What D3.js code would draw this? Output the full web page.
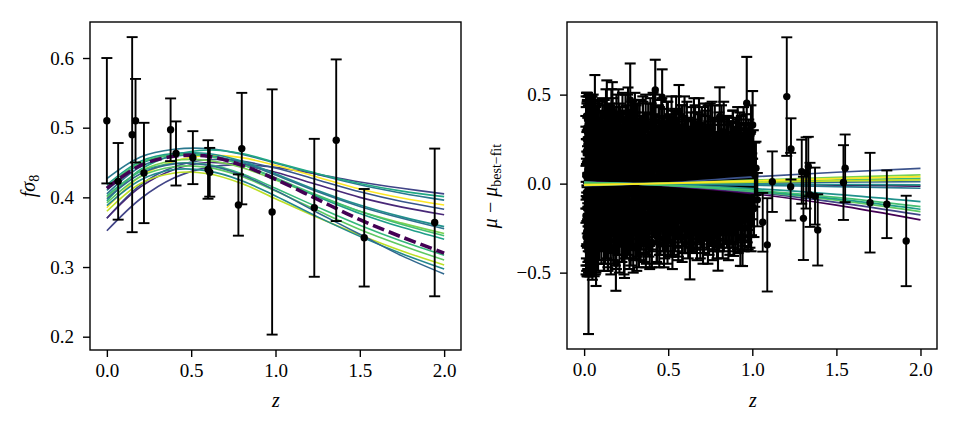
<!DOCTYPE html>
<html><head><meta charset="utf-8">
<script src="https://cdn.jsdelivr.net/npm/d3@7"></script>
<style>body{margin:0;background:#fff}svg{display:block}</style>
</head><body><svg id="c" width="960" height="432"></svg>
<script>
// ---------- Left panel data: f sigma8 measurements ----------
const fsZ   = [0.00, 0.067, 0.15, 0.17, 0.22, 0.378, 0.41, 0.51, 0.60, 0.61, 0.78, 0.80, 0.98, 1.23, 1.36, 1.526, 1.944];
const fsVal = [0.510, 0.423, 0.490, 0.510, 0.435, 0.497, 0.463, 0.457, 0.440, 0.436, 0.389, 0.470, 0.379, 0.385, 0.482, 0.342, 0.364];
const fsErr = [0.090, 0.055, 0.140, 0.060, 0.072, 0.045, 0.046, 0.038, 0.042, 0.035, 0.044, 0.080, 0.176, 0.099, 0.116, 0.070, 0.106];

// model curves sampled at curveZ
const curveZ = [0, 0.2, 0.4, 0.6, 0.8, 1.0, 1.25, 1.5, 1.75, 2.0];
const fsCurveValues = [
  [0.427,0.458,0.469,0.470,0.462,0.449,0.433,0.418,0.406,0.396],
  [0.352,0.398,0.428,0.443,0.447,0.443,0.433,0.422,0.413,0.405],
  [0.395,0.440,0.461,0.468,0.463,0.450,0.434,0.420,0.409,0.401],
  [0.385,0.430,0.452,0.460,0.457,0.446,0.429,0.412,0.399,0.389],
  [0.370,0.418,0.444,0.454,0.452,0.442,0.425,0.408,0.394,0.383],
  [0.370,0.415,0.440,0.450,0.446,0.436,0.418,0.400,0.386,0.375],
  [0.410,0.448,0.462,0.463,0.452,0.434,0.410,0.389,0.372,0.358],
  [0.405,0.444,0.459,0.460,0.450,0.432,0.408,0.387,0.370,0.355],
  [0.400,0.438,0.453,0.453,0.443,0.425,0.402,0.380,0.363,0.348],
  [0.418,0.452,0.463,0.460,0.447,0.427,0.401,0.377,0.357,0.340],
  [0.415,0.450,0.461,0.459,0.447,0.428,0.403,0.380,0.361,0.345],
  [0.402,0.437,0.449,0.447,0.434,0.413,0.386,0.360,0.337,0.317],
  [0.392,0.430,0.444,0.443,0.430,0.409,0.381,0.354,0.331,0.310],
  [0.380,0.420,0.435,0.434,0.420,0.398,0.371,0.346,0.323,0.303],
  [0.388,0.425,0.440,0.438,0.424,0.402,0.372,0.344,0.319,0.297],
  [0.398,0.434,0.448,0.446,0.432,0.410,0.378,0.347,0.316,0.290]
];
const fsBestFit = [0.413,0.446,0.459,0.459,0.446,0.426,0.397,0.368,0.343,0.320];

// ---------- Right panel data: SN residuals [z, residual, error] ----------
const snLow = [
[0.010,0.12,0.26],[0.011,-0.18,0.28],[0.012,0.25,0.24],[0.013,-0.05,0.30],[0.014,0.31,0.20],[0.015,-0.27,0.22],[0.016,0.04,0.25],[0.017,-0.33,0.19],[0.018,0.19,0.27],[0.019,-0.12,0.24],
[0.020,0.36,0.15],[0.021,-0.22,0.26],[0.022,0.08,0.21],[0.023,-0.38,0.14],[0.024,0.27,0.22],[0.025,-0.02,0.28],[0.026,-0.42,0.425],[0.027,0.15,0.23],[0.028,-0.29,0.21],[0.029,0.33,0.17],
[0.030,-0.09,0.26],[0.031,0.21,0.18],[0.032,-0.35,0.17],[0.033,0.02,0.22],[0.034,0.29,0.16],[0.035,-0.17,0.29],[0.036,0.10,0.20],[0.037,-0.40,0.12],[0.038,0.24,0.19],[0.039,-0.26,0.24],
[0.040,0.06,0.27],[0.041,0.35,0.13],[0.042,-0.14,0.22],[0.043,0.18,0.25],[0.044,-0.31,0.20],[0.045,0.00,0.18],[0.046,0.28,0.21],[0.047,-0.21,0.17],[0.048,0.13,0.23],[0.049,-0.36,0.18],
[0.050,0.22,0.16],[0.052,-0.07,0.24],[0.054,0.32,0.18],[0.056,-0.24,0.22],[0.058,0.09,0.20],[0.060,-0.37,0.15],[0.062,0.17,0.19],[0.064,0.35,0.26],[0.066,-0.11,0.21],[0.068,0.26,0.17],
[0.070,-0.30,0.20],[0.071,-0.425,0.15],[0.073,0.05,0.22],[0.075,0.20,0.24],[0.077,-0.19,0.18],[0.079,0.30,0.15],[0.081,-0.04,0.23],[0.083,-0.33,0.16],[0.085,0.14,0.21],[0.088,0.27,0.19],
[0.091,-0.23,0.20],[0.094,0.07,0.17],[0.097,-0.15,0.22],[0.100,0.23,0.18],
[0.0105,0.05,0.27],[0.0115,-0.30,0.21],[0.0125,0.18,0.25],[0.0135,-0.14,0.28],[0.0145,0.38,0.13],[0.0155,-0.08,0.26],[0.0165,0.22,0.23],[0.0175,-0.24,0.22],[0.0185,0.01,0.29],[0.0195,0.29,0.18],
[0.0205,-0.36,0.16],[0.0215,0.13,0.24],[0.0225,-0.19,0.25],[0.0235,0.33,0.16],[0.0245,-0.11,0.27],[0.0255,0.24,0.20],[0.0265,-0.32,0.18],[0.0275,0.07,0.25],[0.0285,0.31,0.18],[0.0295,-0.20,0.23],
[0.0315,0.11,0.21],[0.0335,-0.27,0.21],[0.0355,0.26,0.19],[0.0375,-0.06,0.24],[0.0395,0.16,0.26],[0.0425,-0.34,0.17],[0.0455,0.34,0.15],[0.0485,-0.01,0.22],[0.0515,0.19,0.21],[0.0545,-0.28,0.19],
[0.0575,0.29,0.17],[0.0605,-0.13,0.23],[0.0635,0.12,0.22],[0.0665,-0.37,0.14],[0.0695,0.24,0.19],[0.0725,-0.16,0.21],[0.0765,0.10,0.23],[0.0805,-0.27,0.18],[0.0855,0.31,0.16],[0.0905,-0.06,0.21],[0.0955,0.18,0.19],
[0.103,-0.28,0.17],[0.106,0.11,0.16],[0.109,0.34,0.14],[0.112,-0.08,0.19],[0.115,0.19,0.15],[0.118,-0.35,0.14],[0.121,0.02,0.18],[0.124,0.28,0.16],[0.127,-0.17,0.15],[0.130,0.40,0.13],
[0.133,-0.25,0.17],[0.135,0.43,0.15],[0.138,0.08,0.14],[0.141,-0.31,0.16],[0.144,0.22,0.17],[0.147,-0.03,0.15],[0.150,0.31,0.14],[0.153,-0.20,0.18],[0.156,0.15,0.13],[0.159,-0.36,0.15],
[0.162,0.37,0.16],[0.165,-0.10,0.14],[0.168,0.41,0.16],[0.171,0.05,0.17],[0.174,-0.27,0.16],[0.177,0.26,0.13],[0.180,-0.14,0.15],[0.183,0.12,0.18],[0.186,-0.32,0.14],[0.189,-0.447,0.155],
[0.192,0.35,0.15],[0.195,-0.06,0.16],[0.198,0.21,0.14],[0.201,-0.23,0.17],[0.204,0.39,0.14],[0.207,0.00,0.15],[0.210,-0.34,0.16],[0.213,0.16,0.17],[0.216,0.30,0.13],[0.219,-0.12,0.18],
[0.222,0.09,0.14],[0.225,-0.29,0.15],[0.228,0.36,0.15],[0.231,-0.18,0.14],[0.234,0.24,0.16],[0.237,-0.02,0.15],[0.240,-0.38,0.15],[0.243,0.18,0.14],[0.246,0.33,0.17],[0.249,-0.09,0.16],
[0.252,0.27,0.13],[0.255,-0.26,0.16],[0.258,0.06,0.15],[0.261,0.40,0.14],[0.264,-0.16,0.17],[0.267,0.13,0.14],[0.270,-0.33,0.15],[0.274,0.47,0.205],[0.277,0.20,0.15],[0.280,-0.05,0.16],
[0.283,0.32,0.14],[0.286,-0.22,0.15],[0.289,0.10,0.17],[0.292,-0.36,0.14],[0.295,0.25,0.15],[0.298,-0.13,0.16],
[0.302,0.38,0.13],[0.306,-0.27,0.15],[0.310,0.05,0.14],[0.314,0.29,0.16],[0.318,-0.14,0.13],[0.322,0.17,0.15],[0.326,-0.33,0.14],[0.330,0.35,0.12],[0.334,-0.04,0.16],[0.338,0.22,0.14],
[0.342,-0.22,0.15],[0.346,0.09,0.13],[0.350,0.31,0.15],[0.354,-0.30,0.14],[0.358,0.14,0.16],[0.362,-0.10,0.13],[0.366,0.36,0.14],[0.370,-0.31,0.14],[0.374,0.01,0.15],[0.378,0.26,0.13],
[0.382,-0.19,0.15],[0.386,0.11,0.14],[0.390,-0.35,0.13],[0.394,0.33,0.15],[0.398,-0.07,0.14],[0.402,0.20,0.15],[0.406,-0.25,0.13],[0.410,0.37,0.14],[0.414,0.04,0.16],[0.418,-0.16,0.14],
[0.423,0.526,0.17],[0.427,0.24,0.13],[0.431,-0.29,0.15],[0.435,0.12,0.14],[0.439,-0.02,0.16],[0.443,0.30,0.14],[0.447,-0.34,0.13],[0.451,0.16,0.15],[0.455,-0.12,0.14],[0.459,0.34,0.13],
[0.464,0.485,0.157],[0.468,-0.23,0.15],[0.472,0.07,0.14],[0.476,0.27,0.15],[0.480,-0.28,0.14],[0.484,0.19,0.13],[0.488,-0.08,0.15],[0.492,0.32,0.14],[0.496,-0.32,0.13],[0.500,0.10,0.15],
[0.505,-0.18,0.14],[0.510,0.25,0.14],[0.515,-0.03,0.15],[0.520,0.36,0.13],[0.525,-0.27,0.14],[0.530,0.14,0.15],[0.535,-0.26,0.14],[0.540,0.29,0.13],[0.545,-0.11,0.15],[0.550,0.05,0.14],
[0.555,0.22,0.15],[0.560,-0.30,0.13],[0.564,0.408,0.146],[0.570,-0.06,0.14],[0.575,0.18,0.15],[0.580,-0.21,0.14],[0.585,0.31,0.13],[0.590,0.02,0.15],[0.595,-0.25,0.14],
[0.600,0.21,0.15],[0.606,-0.16,0.17],[0.611,0.30,0.16],[0.617,-0.04,0.15],[0.623,0.12,0.17],[0.629,-0.363,0.175],[0.635,0.26,0.14],[0.641,-0.22,0.16],[0.647,0.04,0.18],[0.653,0.33,0.15],
[0.659,-0.12,0.16],[0.665,0.17,0.17],[0.671,-0.28,0.15],[0.677,0.08,0.16],[0.683,0.33,0.15],[0.689,-0.19,0.15],[0.695,0.23,0.16],[0.701,-0.06,0.18],[0.707,-0.31,0.14],[0.713,0.15,0.16],
[0.719,0.30,0.15],[0.725,-0.14,0.15],[0.731,0.02,0.17],[0.737,0.28,0.16],[0.743,-0.24,0.16],[0.749,0.10,0.15],[0.755,-0.09,0.17],[0.761,0.31,0.15],[0.767,-0.27,0.16],[0.773,0.19,0.18],
[0.779,-0.02,0.16],[0.785,0.06,0.17],[0.791,-0.20,0.15],[0.796,-0.331,0.158],[0.802,0.24,0.16],[0.806,0.376,0.165],[0.812,-0.11,0.17],[0.818,0.14,0.15],[0.824,-0.26,0.16],[0.830,0.29,0.17],
[0.836,0.01,0.16],[0.842,-0.17,0.15],[0.848,0.20,0.18],[0.854,-0.07,0.16],[0.860,0.22,0.15],[0.866,-0.23,0.17],[0.872,0.11,0.16],[0.878,-0.13,0.15],[0.884,0.25,0.16],[0.889,-0.256,0.15],
[0.895,0.03,0.17],[0.901,0.18,0.16],[0.907,-0.18,0.15],[0.913,0.27,0.16],[0.919,-0.05,0.17],[0.925,0.13,0.15],[0.929,-0.303,0.159],[0.935,0.21,0.17],[0.942,-0.298,0.165],[0.948,0.07,0.16],
[0.955,-0.15,0.17],[0.961,0.24,0.15],[0.967,0.452,0.26],[0.973,-0.10,0.16],[0.980,0.16,0.17],[0.986,-0.21,0.15],[0.992,0.28,0.16],[0.998,-0.03,0.17],[1.002,0.33,0.19],[1.006,0.12,0.18],[1.010,-0.14,0.16],
[0.102,0.14,0.15],[0.106,-0.21,0.17],[0.111,0.27,0.13],[0.115,-0.05,0.16],[0.120,0.33,0.14],[0.124,-0.30,0.15],[0.129,0.08,0.18],[0.133,-0.15,0.14],[0.138,0.22,0.16],[0.142,-0.36,0.13],
[0.147,0.03,0.17],[0.151,0.29,0.15],[0.156,-0.24,0.14],[0.160,0.17,0.16],[0.165,-0.09,0.15],[0.169,0.35,0.13],[0.174,-0.28,0.17],[0.178,0.11,0.14],[0.183,-0.02,0.16],[0.187,0.25,0.15],
[0.192,-0.33,0.15],[0.196,0.19,0.17],[0.201,-0.12,0.13],[0.205,0.06,0.16],[0.210,0.31,0.14],[0.214,-0.19,0.15],[0.219,0.00,0.18],[0.223,-0.26,0.14],[0.228,0.23,0.16],[0.232,0.13,0.13],
[0.237,-0.34,0.17],[0.241,0.09,0.15],[0.246,-0.07,0.14],[0.250,0.28,0.16],[0.255,-0.16,0.15],[0.259,0.37,0.13],[0.264,-0.23,0.17],[0.268,0.04,0.14],[0.273,0.18,0.16],[0.277,-0.31,0.15],
[0.282,0.21,0.15],[0.286,-0.11,0.17],[0.291,0.34,0.13],[0.295,-0.27,0.16],[0.300,0.07,0.14],[0.304,-0.04,0.15],[0.309,0.26,0.18],[0.313,-0.35,0.14],[0.318,0.12,0.16],[0.322,-0.18,0.13],
[0.327,0.30,0.17],[0.331,0.01,0.15],[0.336,-0.29,0.14],[0.340,0.16,0.16],[0.345,-0.08,0.15],[0.349,0.36,0.13],[0.354,-0.22,0.17],[0.358,0.10,0.14],[0.363,0.24,0.16],[0.367,-0.32,0.15],
[0.372,0.05,0.15],[0.376,-0.13,0.17],[0.381,0.32,0.13],[0.385,-0.25,0.16],[0.390,0.15,0.14],[0.394,-0.01,0.15],[0.399,0.27,0.18],[0.403,-0.33,0.14],[0.408,0.09,0.16],[0.412,-0.17,0.13],
[0.417,0.22,0.17],[0.421,0.35,0.15],[0.426,-0.20,0.14],[0.430,0.02,0.16],[0.435,-0.30,0.15],[0.439,0.18,0.13],[0.444,-0.10,0.17],[0.448,0.29,0.14],[0.453,-0.24,0.16],[0.457,0.08,0.15],
[0.462,0.33,0.15],[0.466,-0.14,0.17],[0.471,0.13,0.13],[0.475,-0.31,0.16],[0.480,0.24,0.14],[0.484,-0.05,0.15],[0.489,0.17,0.18],[0.493,-0.21,0.14],[0.498,0.30,0.16],[0.502,-0.27,0.13],
[0.507,0.04,0.17],[0.511,0.20,0.15],[0.516,-0.15,0.14],[0.520,0.11,0.16],[0.525,-0.33,0.15],[0.529,0.28,0.13],[0.534,-0.08,0.17],[0.538,0.15,0.14],[0.543,-0.22,0.16],[0.547,0.34,0.15],
[0.552,-0.12,0.15],[0.556,0.07,0.17],[0.561,-0.28,0.13],[0.565,0.23,0.16],[0.570,0.00,0.14],[0.574,-0.18,0.15],[0.579,0.26,0.18],[0.583,-0.30,0.14],[0.588,0.12,0.16],[0.592,-0.06,0.13],
[0.597,0.32,0.17],[0.601,-0.24,0.15],[0.606,0.09,0.14],[0.610,-0.13,0.16],[0.615,0.21,0.15],[0.619,-0.29,0.13],[0.624,0.14,0.17],[0.628,0.03,0.14],[0.633,-0.20,0.16],[0.637,0.28,0.15],
[0.642,-0.09,0.15],[0.646,0.18,0.17],[0.651,-0.26,0.13],[0.655,0.06,0.16],[0.660,0.30,0.14],[0.664,-0.16,0.15],[0.669,0.11,0.18],[0.673,-0.23,0.14],[0.678,0.24,0.16],[0.682,-0.03,0.13],
[0.687,0.16,0.17],[0.691,-0.27,0.15],[0.696,0.08,0.14],[0.700,0.27,0.16],[0.705,-0.12,0.15],[0.709,0.19,0.13],[0.714,-0.22,0.17],[0.718,0.02,0.14],[0.723,0.25,0.16],[0.727,-0.17,0.15],
[0.732,0.12,0.15],[0.736,-0.28,0.17],[0.741,0.22,0.13],[0.745,-0.05,0.16],[0.750,0.31,0.14],[0.754,-0.19,0.15],[0.759,0.07,0.18],[0.763,-0.24,0.14],[0.768,0.17,0.16],[0.772,-0.10,0.13],
[0.777,0.27,0.17],[0.781,-0.15,0.15],[0.786,0.10,0.14],[0.790,-0.26,0.16],[0.795,0.21,0.15],[0.799,0.01,0.13],[0.804,-0.21,0.17],[0.808,0.15,0.14],[0.813,-0.08,0.16],[0.817,0.29,0.15],
[0.822,-0.14,0.15],[0.826,0.06,0.17],[0.831,-0.25,0.13],[0.835,0.20,0.16],[0.840,-0.03,0.14],[0.844,0.13,0.15],[0.849,-0.18,0.18],[0.853,0.24,0.14],[0.858,-0.27,0.16],[0.862,0.09,0.13],
[0.867,-0.11,0.17],[0.871,0.19,0.15],[0.876,-0.20,0.14],[0.880,0.04,0.16],[0.885,0.26,0.15],[0.889,-0.15,0.13],[0.894,0.12,0.17],[0.898,-0.24,0.14],[0.903,0.21,0.16],[0.907,-0.06,0.15],
[0.912,0.15,0.15],[0.916,-0.22,0.17],[0.921,0.08,0.13],[0.925,0.24,0.16],[0.930,-0.12,0.14],[0.934,0.18,0.15],[0.939,-0.19,0.18],[0.943,0.03,0.14],[0.948,0.27,0.16],[0.952,-0.25,0.13],
[0.957,0.11,0.17],[0.961,-0.09,0.15],[0.966,0.20,0.14],[0.970,-0.17,0.16],[0.975,0.06,0.15],[0.979,0.23,0.13],[0.984,-0.13,0.17],[0.988,0.14,0.14],[0.993,-0.22,0.16],[0.997,0.02,0.15],
[0.1045,0.04,0.16],[0.1095,-0.12,0.15],[0.1135,0.18,0.17],[0.1185,-0.22,0.14],[0.1225,0.10,0.16],[0.1275,-0.02,0.15],[0.1325,0.24,0.14],[0.1365,-0.16,0.17],[0.1415,0.13,0.15],[0.1455,-0.27,0.16],
[0.1505,0.07,0.14],[0.1545,-0.09,0.17],[0.1595,0.21,0.15],[0.1635,-0.19,0.16],[0.1685,0.01,0.14],[0.1725,0.16,0.17],[0.1775,-0.24,0.15],[0.1815,0.27,0.16],[0.1865,-0.05,0.14],[0.1905,0.12,0.17],
[0.1955,-0.14,0.15],[0.1995,0.22,0.16],[0.2045,-0.26,0.14],[0.2085,0.05,0.17],[0.2135,-0.07,0.15],[0.2175,0.19,0.16],[0.2225,-0.21,0.14],[0.2265,0.09,0.17],[0.2315,0.26,0.15],[0.2355,-0.11,0.16],
[0.2405,0.14,0.14],[0.2445,-0.25,0.17],[0.2495,0.03,0.15],[0.2535,0.20,0.16],[0.2585,-0.17,0.14],[0.2625,0.08,0.17],[0.2675,-0.03,0.15],[0.2715,0.23,0.16],[0.2765,-0.23,0.14],[0.2805,0.11,0.17],
[0.2855,-0.13,0.15],[0.2895,0.17,0.16],[0.2945,-0.20,0.14],[0.2985,0.02,0.17],[0.3035,0.25,0.15],[0.3075,-0.08,0.16],[0.3125,0.12,0.14],[0.3165,-0.24,0.17],[0.3215,0.06,0.15],[0.3255,0.19,0.16],
[0.3305,-0.15,0.14],[0.3345,0.09,0.17],[0.3395,-0.01,0.15],[0.3435,0.22,0.16],[0.3485,-0.21,0.14],[0.3525,0.13,0.17],[0.3575,-0.10,0.15],[0.3615,0.18,0.16],[0.3665,-0.26,0.14],[0.3705,0.04,0.17],
[0.3755,0.24,0.15],[0.3795,-0.12,0.16],[0.3845,0.10,0.14],[0.3885,-0.18,0.17],[0.3935,0.07,0.15],[0.3975,0.20,0.16],[0.4025,-0.23,0.14],[0.4065,0.01,0.17],[0.4115,-0.06,0.15],[0.4155,0.16,0.16],
[0.4205,-0.14,0.14],[0.4245,0.26,0.17],[0.4295,-0.19,0.15],[0.4335,0.08,0.16],[0.4385,-0.04,0.14],[0.4425,0.21,0.17],[0.4475,-0.25,0.15],[0.4515,0.11,0.16],[0.4565,-0.09,0.14],[0.4605,0.17,0.17],
[0.4655,-0.20,0.15],[0.4695,0.05,0.16],[0.4745,0.23,0.14],[0.4785,-0.13,0.17],[0.4835,0.14,0.15],[0.4875,-0.22,0.16],[0.4925,0.03,0.14],[0.4965,-0.07,0.17],[0.5015,0.19,0.15],[0.5055,-0.16,0.16],
[0.5105,0.09,0.14],[0.5145,-0.24,0.17],[0.5195,0.22,0.15],[0.5235,-0.02,0.16],[0.5285,0.12,0.14],[0.5325,-0.18,0.17],[0.5375,0.06,0.15],[0.5415,0.25,0.16],[0.5465,-0.11,0.14],[0.5505,0.15,0.17],
[0.5555,-0.21,0.15],[0.5595,0.02,0.16],[0.5645,-0.08,0.14],[0.5685,0.18,0.17],[0.5735,-0.15,0.15],[0.5775,0.10,0.16],[0.5825,-0.25,0.14],[0.5865,0.21,0.17],[0.5915,-0.04,0.15],[0.5955,0.13,0.16],
[0.6005,-0.12,0.15],[0.6055,0.16,0.16],[0.6105,-0.20,0.14],[0.6155,0.05,0.17],[0.6205,0.22,0.15],[0.6255,-0.07,0.16],[0.6305,0.10,0.14],[0.6355,-0.17,0.17],[0.6405,0.00,0.15],[0.6455,0.20,0.16],
[0.6505,-0.14,0.14],[0.6555,0.08,0.17],[0.6605,-0.22,0.15],[0.6655,0.14,0.16],[0.6705,-0.03,0.14],[0.6755,0.23,0.17],[0.6805,-0.18,0.15],[0.6855,0.04,0.16],[0.6905,-0.10,0.14],[0.6955,0.17,0.17],
[0.7005,-0.21,0.15],[0.7055,0.11,0.16],[0.7105,-0.05,0.14],[0.7155,0.21,0.17],[0.7205,-0.15,0.15],[0.7255,0.07,0.16],[0.7305,-0.23,0.14],[0.7355,0.15,0.17],[0.7405,0.01,0.15],[0.7455,-0.11,0.16],
[0.7505,0.19,0.14],[0.7555,-0.18,0.17],[0.7605,0.09,0.15],[0.7655,-0.06,0.16],[0.7705,0.22,0.14],[0.7755,-0.20,0.17],[0.7805,0.13,0.15],[0.7855,-0.13,0.16],[0.7905,0.03,0.14],[0.7955,0.18,0.17],
[0.8005,-0.16,0.15],[0.8055,0.08,0.16],[0.8105,-0.22,0.14],[0.8155,0.20,0.17],[0.8205,-0.04,0.15],[0.8255,0.12,0.16],[0.8305,-0.12,0.14],[0.8355,0.16,0.17],[0.8405,-0.19,0.15],[0.8455,0.05,0.16],
[0.8505,0.21,0.14],[0.8555,-0.09,0.17],[0.8605,0.11,0.15],[0.8655,-0.17,0.16],[0.8705,0.02,0.14],[0.8755,0.18,0.17],[0.8805,-0.21,0.15],[0.8855,0.07,0.16],[0.8905,-0.07,0.14],[0.8955,0.15,0.17],
[0.9005,-0.14,0.15],[0.9055,0.10,0.16],[0.9105,-0.23,0.14],[0.9155,0.19,0.17],[0.9205,-0.02,0.15],[0.9255,0.09,0.16],[0.9305,-0.16,0.14],[0.9355,0.14,0.17],[0.9405,-0.10,0.15],[0.9455,0.04,0.16],
[0.9505,0.20,0.14],[0.9555,-0.18,0.17],[0.9605,0.06,0.15],[0.9655,-0.05,0.16],[0.9705,0.17,0.14],[0.9755,-0.20,0.17],[0.9805,0.12,0.15],[0.9855,-0.08,0.16],[0.9905,0.15,0.14],[0.9955,-0.12,0.17]
];
const snHigh = [
[1.015,0.05,0.18],[1.022,0.086,0.15],[1.030,-0.09,0.15],[1.062,-0.217,0.165],[1.089,-0.344,0.262],[1.119,0.011,0.17],[1.205,0.489,0.333],[1.228,-0.017,0.19],[1.230,0.195,0.172],
[1.294,0.067,0.18],[1.304,-0.195,0.234],[1.320,0.06,0.20],[1.333,0.096,0.167],[1.343,-0.063,0.18],[1.373,-0.07,0.16],[1.389,-0.26,0.20],[1.542,0.006,0.21],[1.552,0.086,0.19],
[1.700,-0.107,0.28],[1.800,-0.116,0.19],[1.915,-0.322,0.254]
];
// residual model lines sampled at muLineZ
const muLineZ = [0, 0.5, 1.0, 1.5, 2.0];
const muLineValues = [
  [0.010,-0.013,-0.056,-0.121,-0.204],
  [0.008,-0.011,-0.048,-0.105,-0.176],
  [0.000,-0.001,-0.003,-0.008,-0.014],
  [0.007,-0.010,-0.043,-0.093,-0.157],
  [0.006,-0.009,-0.040,-0.086,-0.144],
  [0.004,-0.006,-0.028,-0.060,-0.101],
  [0.002,-0.002,-0.009,-0.017,-0.026],
  [-0.012,0.005,0.038,0.064,0.086],
  [-0.003,0.000,0.004,0.008,0.011],
  [0.001,-0.001,-0.003,-0.005,-0.007],
  [0.006,-0.008,-0.036,-0.077,-0.129],
  [-0.006,0.001,0.012,0.021,0.030],
  [-0.010,0.002,0.020,0.035,0.049],
  [-0.004,0.001,0.008,0.015,0.021],
  [-0.008,0.002,0.016,0.028,0.039]
];
const xTicks = [0, 0.5, 1.0, 1.5, 2.0];
const fsYTicks = [0.2, 0.3, 0.4, 0.5, 0.6];
const muYTicks = [-0.5, 0.0, 0.5];

// ---------- styles ----------
const FONT = "Liberation Serif";
const fsColors = ["#2a788e","#414487","#22a884","#fde725","#39568c","#482878","#21918c","#2c728e","#7ad151","#1f9e89","#44bf70","#35b779","#5ec962","#bddf26","#23888e","#31688e"];
const muColors = ["#440154","#414487","#440154","#5ec962","#1f9e89","#21918c","#2a788e","#3b528b","#31688e","#21918c","#44bf70","#35b779","#7ad151","#bddf26","#fde725"];

const svg = d3.select("#c");
const fmt = v => d3.format(".1f")(v).replace("-", "\u2212");

function frame(g, x, y, yTicks, L, R, T, B) {
  const xa = g.append("g").attr("transform", `translate(0,${B})`)
    .call(d3.axisBottom(x).tickValues(xTicks).tickSize(7).tickPadding(7).tickFormat(fmt));
  const ya = g.append("g").attr("transform", `translate(${L},0)`)
    .call(d3.axisLeft(y).tickValues(yTicks).tickSize(7).tickPadding(9).tickFormat(fmt));
  [xa, ya].forEach(a => {
    a.attr("font-family", FONT);
    a.select(".domain").remove();
    a.selectAll("line").attr("stroke", "#000").attr("stroke-width", 1.4);
    a.selectAll("text").attr("font-size", 19).attr("fill", "#000").attr("font-family", FONT);
  });
  g.append("rect").attr("x", L).attr("y", T).attr("width", R - L).attr("height", B - T)
    .attr("fill", "none").attr("stroke", "#000").attr("stroke-width", 1.4);
}

function errorbars(g, data, x, y, w) {
  const eg = g.append("g");
  data.forEach(([zv, v, e]) => {
    const px = x(zv), y1 = y(v + e), y2 = y(v - e);
    eg.append("line").attr("x1", px).attr("x2", px).attr("y1", y1).attr("y2", y2);
    eg.append("line").attr("x1", px - 5.5).attr("x2", px + 5.5).attr("y1", y1).attr("y2", y1);
    eg.append("line").attr("x1", px - 5.5).attr("x2", px + 5.5).attr("y1", y2).attr("y2", y2);
  });
  eg.selectAll("line").attr("stroke", "#000").attr("stroke-width", w);
  g.append("g").selectAll("circle").data(data).join("circle")
    .attr("cx", d => x(d[0])).attr("cy", d => y(d[1])).attr("r", 3.7).attr("fill", "#000");
}

// ---------- Left panel ----------
{
  const L = 90, R = 461, T = 22, B = 350;
  const x = d3.scaleLinear([-0.1, 2.1], [L, R]);
  const y = d3.scaleLinear([0.1809, 0.6517], [B, T]);
  const g = svg.append("g");
  g.append("clipPath").attr("id", "cl").append("rect").attr("x", L).attr("y", T).attr("width", R - L).attr("height", B - T);
  const plot = g.append("g").attr("clip-path", "url(#cl)");
  const line = d3.line().x((d, i) => x(curveZ[i])).y(d => y(d)).curve(d3.curveCatmullRom.alpha(0.5));
  fsCurveValues.forEach((vals, i) => {
    plot.append("path").attr("d", line(vals)).attr("fill", "none").attr("stroke", fsColors[i]).attr("stroke-width", 1.6);
  });
  plot.append("path").attr("d", line(fsBestFit)).attr("fill", "none").attr("stroke", "#440154")
    .attr("stroke-width", 3.6).attr("stroke-dasharray", "12,5");
  errorbars(plot, fsZ.map((z, i) => [z, fsVal[i], fsErr[i]]), x, y, 1.9);
  frame(g, x, y, fsYTicks, L, R, T, B);
  g.append("text").attr("x", 276).attr("y", 407).attr("text-anchor", "middle").attr("font-size", 20)
    .attr("font-family", FONT).attr("font-style", "italic").text("z");
  const yl = g.append("text").attr("transform", "translate(35,186) rotate(-90)").attr("text-anchor", "middle")
    .attr("font-size", 20).attr("font-family", FONT);
  yl.append("tspan").attr("font-style", "italic").text("f");
  yl.append("tspan").attr("font-style", "italic").text("σ");
  yl.append("tspan").attr("font-size", 14).attr("dy", 4).text("8");
}

// ---------- Right panel ----------
{
  const L = 567, R = 937, T = 22, B = 349;
  const x = d3.scaleLinear([-0.1, 2.1], [567.3, 937.3]);
  const y = d3.scaleLinear([-0.929, 0.908], [B, T]);
  const g = svg.append("g");
  g.append("clipPath").attr("id", "cr").append("rect").attr("x", L).attr("y", T).attr("width", R - L).attr("height", B - T);
  const plot = g.append("g").attr("clip-path", "url(#cr)");
  errorbars(plot, snLow, x, y, 2.1);
  const line = d3.line().x((d, i) => x(muLineZ[i])).y(d => y(d)).curve(d3.curveMonotoneX);
  muLineValues.forEach((vals, i) => {
    plot.append("path").attr("d", line(vals)).attr("fill", "none").attr("stroke", muColors[i]).attr("stroke-width", 1.7);
  });
  errorbars(plot, snHigh, x, y, 1.9);
  frame(g, x, y, muYTicks, L, R, T, B);
  g.append("text").attr("x", 753).attr("y", 407).attr("text-anchor", "middle").attr("font-size", 20)
    .attr("font-family", FONT).attr("font-style", "italic").text("z");
  const yl = g.append("text").attr("transform", "translate(497,186) rotate(-90)").attr("text-anchor", "middle")
    .attr("font-size", 20).attr("font-family", FONT);
  yl.append("tspan").attr("font-style", "italic").text("μ");
  yl.append("tspan").text(" \u2212 ");
  yl.append("tspan").attr("font-style", "italic").text("μ");
  yl.append("tspan").attr("font-size", 14).attr("dy", 4).text("best\u2212fit");
}
</script></body></html>
